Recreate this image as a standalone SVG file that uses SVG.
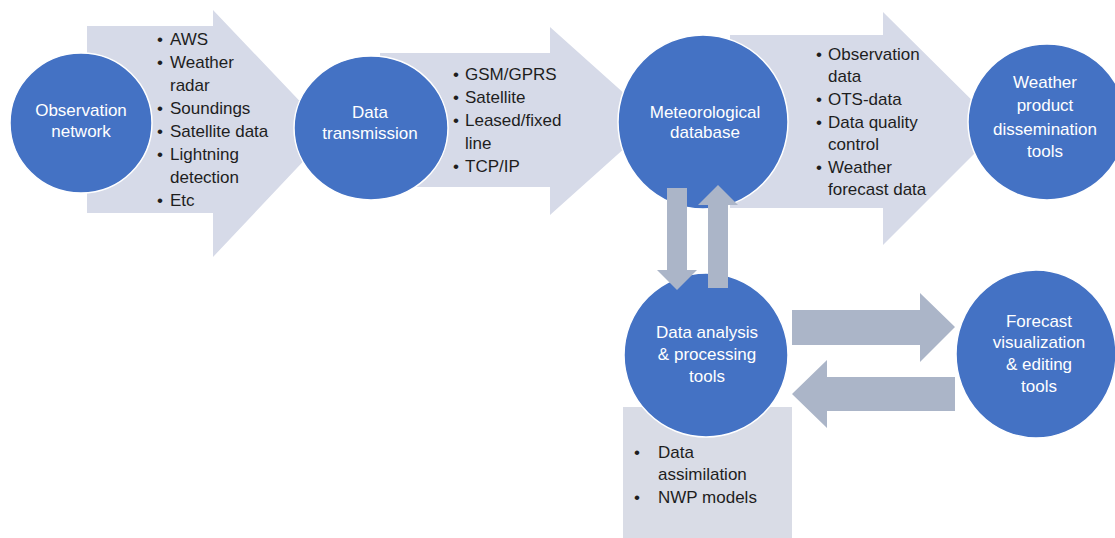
<svg xmlns="http://www.w3.org/2000/svg" width="1115" height="538" viewBox="0 0 1115 538">
<style>
.big{fill:#d6dae8}
.small{fill:#abb5c8}
.node{fill:#4472c4;stroke:#ffffff;stroke-width:1.5}
.nt{font-family:"Liberation Sans",Arial,sans-serif;font-size:17px;fill:#ffffff;text-anchor:middle}
.bt{font-family:"Liberation Sans",Arial,sans-serif;font-size:17px;fill:#1e1e1e}
.box{fill:#d9dce6}
</style>
<rect width="1115" height="538" fill="#ffffff"/>
<g id="connectors">
<polygon class="big" points="87,26 213,26 213,10 330,133 213,257 213,213 87,213"/>
<polygon class="big" points="380,53 550,53 550,27 655,121 550,215 550,187 380,187"/>
<polygon class="big" points="730,35 883,35 883,12 1000,128 883,245 883,208 730,208"/>
</g>
<g id="list-observation" class="bt">
<text x="157" y="45">•</text><text x="170" y="45">AWS</text>
<text x="157" y="68">•</text><text x="170" y="68">Weather</text>
<text x="170" y="91">radar</text>
<text x="157" y="114">•</text><text x="170" y="114">Soundings</text>
<text x="157" y="137">•</text><text x="170" y="137">Satellite data</text>
<text x="157" y="160">•</text><text x="170" y="160">Lightning</text>
<text x="170" y="183">detection</text>
<text x="157" y="206">•</text><text x="170" y="206">Etc</text>
</g>
<g id="list-transmission" class="bt">
<text x="453" y="80">•</text><text x="465" y="80">GSM/GPRS</text>
<text x="453" y="103">•</text><text x="465" y="103">Satellite</text>
<text x="453" y="126">•</text><text x="465" y="126">Leased/fixed</text>
<text x="465" y="149">line</text>
<text x="453" y="172">•</text><text x="465" y="172">TCP/IP</text>
</g>
<g id="list-database" class="bt">
<text x="816" y="60">•</text><text x="828" y="60">Observation</text>
<text x="828" y="82">data</text>
<text x="816" y="105">•</text><text x="828" y="105">OTS-data</text>
<text x="816" y="128">•</text><text x="828" y="128">Data quality</text>
<text x="828" y="150">control</text>
<text x="816" y="173">•</text><text x="828" y="173">Weather</text>
<text x="828" y="195">forecast data</text>
</g>
<g id="list-analysis">
<rect class="box" x="623" y="407" width="169" height="131"/>
<g class="bt">
<text x="634" y="458">•</text><text x="658" y="458">Data</text>
<text x="658" y="480">assimilation</text>
<text x="634" y="503">•</text><text x="658" y="503">NWP models</text>
</g>
</g>
<g id="node-observation">
<ellipse class="node" cx="81" cy="123" rx="71" ry="70"/>
<text class="nt" x="81" y="116">Observation</text>
<text class="nt" x="81" y="137">network</text>
</g>
<g id="node-transmission">
<ellipse class="node" cx="371" cy="128" rx="77" ry="72"/>
<text class="nt" x="370" y="118">Data</text>
<text class="nt" x="370" y="139">transmission</text>
</g>
<g id="node-database">
<ellipse class="node" cx="703" cy="122" rx="85" ry="87"/>
<text class="nt" x="705" y="118">Meteorological</text>
<text class="nt" x="705" y="138">database</text>
</g>
<g id="node-dissemination">
<ellipse class="node" cx="1047" cy="122" rx="79" ry="78"/>
<text class="nt" x="1045" y="88">Weather</text>
<text class="nt" x="1045" y="111">product</text>
<text class="nt" x="1045" y="135">dissemination</text>
<text class="nt" x="1045" y="157">tools</text>
</g>
<g id="node-analysis">
<ellipse class="node" cx="706" cy="355" rx="82" ry="82"/>
<text class="nt" x="707" y="338">Data analysis</text>
<text class="nt" x="707" y="360">&amp; processing</text>
<text class="nt" x="707" y="382">tools</text>
</g>
<g id="node-visualization">
<ellipse class="node" cx="1036" cy="354" rx="80" ry="84"/>
<text class="nt" x="1039" y="327">Forecast</text>
<text class="nt" x="1039" y="348">visualization</text>
<text class="nt" x="1039" y="370">&amp; editing</text>
<text class="nt" x="1039" y="392">tools</text>
</g>
<g id="connectors-links">
<polygon class="small" points="667,188 687,188 687,270 697,270 677,290 657,270 667,270"/>
<polygon class="small" points="718,185 738,205 728,205 728,288 708,288 708,205 698,205"/>
<polygon class="small" points="792,310 920,310 920,293 955,327 920,362 920,345 792,345"/>
<polygon class="small" points="792,394 827,360 827,377 955,377 955,411 827,411 827,428"/>
</g>
</svg>
